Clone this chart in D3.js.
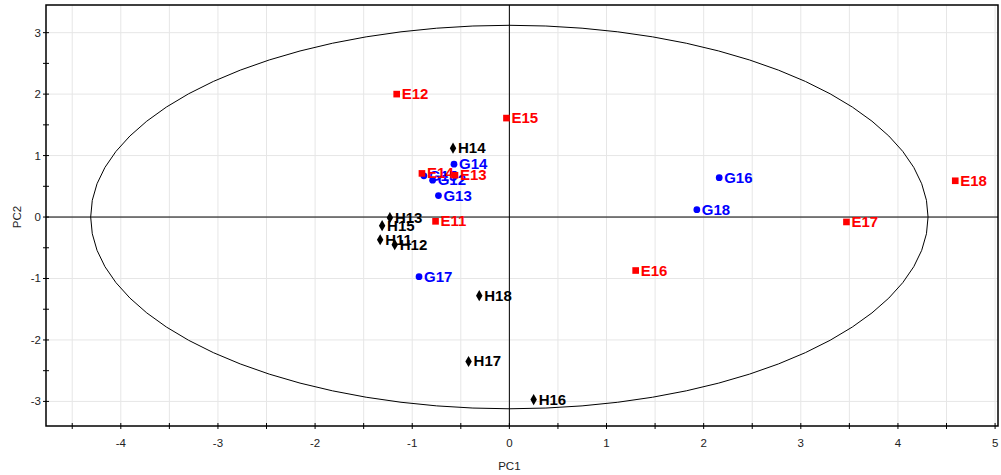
<!DOCTYPE html>
<meta charset="utf-8">
<script src="https://d3js.org/d3.v7.min.js"></script>
<div id="chart"></div>
<style>
  body { margin: 0; background: #fff; }
  text { font-family: "Liberation Sans", Arial, sans-serif; }
  .lbl { font-size: 15px; font-weight: bold; }
  .tick-label { font-size: 11.5px; fill: #222; }
</style>
<script>
  var width = 1001, height = 475;
  var margin = { left: 46, top: 5, right: 2, bottom: 49 };

  // scores
  var eNames = ["E11", "E12", "E13", "E14", "E15", "E16", "E17", "E18"];
  var eX = [-0.76, -1.16, -0.56, -0.90, -0.03, 1.30, 3.47, 4.59];
  var eY = [-0.07, 2.00, 0.68, 0.71, 1.61, -0.87, -0.08, 0.59];

  var gNames = ["G12", "G13", "G14", "G15", "G16", "G17", "G18"];
  var gX = [-0.79, -0.73, -0.57, -0.88, 2.16, -0.93, 1.93];
  var gY = [0.60, 0.35, 0.86, 0.67, 0.64, -0.97, 0.12];

  var hNames = ["H11", "H12", "H13", "H14", "H15", "H16", "H17", "H18"];
  var hX = [-1.33, -1.18, -1.23, -0.58, -1.31, 0.25, -0.42, -0.31];
  var hY = [-0.37, -0.45, -0.01, 1.12, -0.14, -2.97, -2.35, -1.28];

  var xTicks = [-4, -3, -2, -1, 0, 1, 2, 3, 4, 5];
  var yTicks = [-3, -2, -1, 0, 1, 2, 3];
  var ellipseRx = 4.31, ellipseRy = 3.12;

  var svg = d3.select("#chart").append("svg")
    .attr("width", width)
    .attr("height", height);

  var x = d3.scaleLinear().domain([-4.77, 5.03]).range([margin.left, width - margin.right - 1]);
  var y = d3.scaleLinear().domain([-3.4, 3.45]).range([height - margin.bottom, margin.top]);

  var x0 = x.range()[0], x1 = x.range()[1], y0 = y.range()[1], y1 = y.range()[0];

  // grid
  var xGrid = d3.range(-4.5, 5.01, 0.5);
  svg.append("g").selectAll("line").data(xGrid).enter().append("line")
    .attr("x1", d => x(d)).attr("x2", d => x(d))
    .attr("y1", y0).attr("y2", y1)
    .attr("stroke", "#e6e6e6").attr("stroke-width", 1);
  svg.append("g").selectAll("line").data(yTicks).enter().append("line")
    .attr("x1", x0).attr("x2", x1)
    .attr("y1", d => y(d)).attr("y2", d => y(d))
    .attr("stroke", "#e6e6e6").attr("stroke-width", 1);

  // zero lines
  svg.append("line").attr("x1", x(0)).attr("x2", x(0)).attr("y1", y0).attr("y2", y1)
    .attr("stroke", "#000").attr("stroke-width", 1);
  svg.append("line").attr("x1", x0).attr("x2", x1).attr("y1", y(0)).attr("y2", y(0))
    .attr("stroke", "#000").attr("stroke-width", 1);

  // ellipse (drawn as polygon)
  var angles = d3.range(0, 2 * Math.PI + 0.001, 2 * Math.PI / 72);
  svg.append("path")
    .attr("d", d3.line()(angles.map(a => [x(ellipseRx * Math.cos(a)), y(ellipseRy * Math.sin(a))])))
    .attr("fill", "none").attr("stroke", "#000").attr("stroke-width", 1);

  // frame
  svg.append("rect").attr("x", x0).attr("y", y0).attr("width", x1 - x0).attr("height", y1 - y0)
    .attr("fill", "none").attr("stroke", "#000").attr("stroke-width", 1.5);

  // ticks
  var xAll = d3.range(-4.5, 5.01, 0.5);
  svg.append("g").selectAll("line").data(xAll).enter().append("line")
    .attr("x1", d => x(d)).attr("x2", d => x(d))
    .attr("y1", y1 - 3).attr("y2", y1 + 3)
    .attr("stroke", "#000");
  var yAll = d3.range(-3, 3.01, 0.5);
  svg.append("g").selectAll("line").data(yAll).enter().append("line")
    .attr("x1", x0 - 3).attr("x2", x0 + 3)
    .attr("y1", d => y(d)).attr("y2", d => y(d))
    .attr("stroke", "#000");

  svg.append("g").selectAll("text").data(xTicks).enter().append("text")
    .attr("class", "tick-label")
    .attr("x", d => x(d)).attr("y", y1 + 21)
    .attr("text-anchor", "middle")
    .text(d => d);
  svg.append("g").selectAll("text").data(yTicks).enter().append("text")
    .attr("class", "tick-label")
    .attr("x", x0 - 5).attr("y", d => y(d) + 4)
    .attr("text-anchor", "end")
    .text(d => d);

  svg.append("text").attr("class", "tick-label").attr("x", x(0)).attr("y", 470)
    .attr("text-anchor", "middle").text("PC1");
  svg.append("text").attr("class", "tick-label")
    .attr("transform", "translate(21," + y(0) + ") rotate(-90)")
    .attr("text-anchor", "middle").text("PC2");

  // points
  function series(names, xs, ys, color, shape, size) {
    var g = svg.append("g");
    var data = names.map((n, i) => ({ n: n, x: xs[i], y: ys[i] }));
    g.selectAll("path").data(data).enter().append("path")
      .attr("transform", d => "translate(" + x(d.x) + "," + y(d.y) + ")")
      .attr("d", d3.symbol().type(shape).size(size))
      .attr("fill", color);
    g.selectAll("text").data(data).enter().append("text")
      .attr("class", "lbl")
      .attr("x", d => x(d.x) + 5).attr("y", d => y(d.y) + 5)
      .attr("fill", color)
      .text(d => d.n);
  }

  series(hNames, hX, hY, "#000", d3.symbolDiamond, 36);
  series(gNames, gX, gY, "#0000ff", d3.symbolCircle, 36);
  series(eNames, eX, eY, "#ff0000", d3.symbolSquare, 44);
</script>
